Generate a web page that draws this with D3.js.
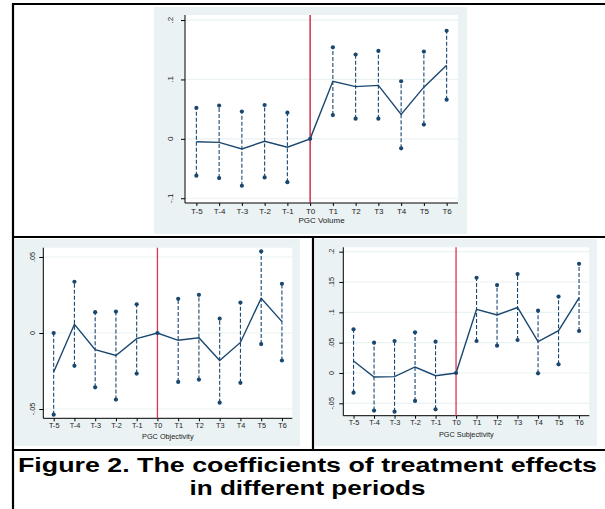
<!DOCTYPE html>
<html>
<head>
<meta charset="utf-8">
<script src="https://cdn.jsdelivr.net/npm/d3@7"></script>
<style>
  body { margin: 0; background: #fff; }
  svg { display: block; font-family: "Liberation Sans", Arial, sans-serif; }
</style>
</head>
<body>
<svg id="fig" width="605" height="509"></svg>
<script>
// periods on the x axis
const periods = ["T-5", "T-4", "T-3", "T-2", "T-1", "T0", "T1", "T2", "T3", "T4", "T5", "T6"];

// PGC Volume
const volCoef = [-0.005, -0.006, -0.017, -0.004, -0.014, 0, 0.097, 0.088, 0.090, 0.041, 0.087, 0.124];
const volLo   = [-0.062, -0.066, -0.079, -0.065, -0.073, 0, 0.040, 0.034, 0.034, -0.016, 0.024, 0.066];
const volHi   = [0.052, 0.056, 0.046, 0.057, 0.044, 0, 0.154, 0.142, 0.148, 0.097, 0.147, 0.182];
const volTicks = [-0.1, 0, 0.1, 0.2];

// PGC Objectivity
const objCoef = [-0.0256, 0.0057, -0.011, -0.0148, -0.0037, 0, -0.0048, -0.0031, -0.0181, -0.0062, 0.0229, 0.0075];
const objLo   = [-0.0537, -0.0216, -0.0357, -0.0438, -0.0267, 0, -0.0322, -0.0306, -0.0458, -0.0328, -0.0073, -0.0181];
const objHi   = [0.0, 0.0337, 0.0137, 0.0141, 0.0189, 0, 0.0225, 0.0251, 0.0095, 0.020, 0.0537, 0.0324];
const objTicks = [-0.05, 0, 0.05];

// PGC Subjectivity
const subCoef = [0.0198, -0.0066, -0.006, 0.0099, -0.0044, 0, 0.105, 0.0956, 0.108, 0.0516, 0.0698, 0.124];
const subLo   = [-0.0324, -0.062, -0.0637, -0.046, -0.0599, 0, 0.0527, 0.045, 0.0544, -0.0005, 0.0143, 0.0692];
const subHi   = [0.072, 0.050, 0.0527, 0.067, 0.0516, 0, 0.157, 0.145, 0.163, 0.1027, 0.126, 0.180];
const subTicks = [-0.05, 0, 0.05, 0.1, 0.15, 0.2];

const navy = "#1a476f";
const bg = "#eaf2f3";

const svg = d3.select("#fig");
svg.append("rect").attr("width", 605).attr("height", 509).attr("fill", "#fff");

// stata style tick labels: .1, -.05
function stataFmt(v) {
  if (Math.abs(v) < 1e-9) return "0";
  let s = String(+v.toFixed(3));
  return s.replace(/^0\./, ".").replace(/^-0\./, "-.");
}

function drawPanel(p) {
  const g = svg.append("g");

  // outer panel background
  g.append("rect")
    .attr("x", p.box[0]).attr("y", p.box[1])
    .attr("width", p.box[2] - p.box[0]).attr("height", p.box[3] - p.box[1])
    .attr("fill", bg);

  const x = d3.scalePoint().domain(periods).range([p.left, p.right]).padding(0.5);
  const y = d3.scaleLinear().domain(p.yDomain).range([p.bottom, p.top]);

  // plot region
  g.append("rect")
    .attr("x", p.left).attr("y", p.top)
    .attr("width", p.right - p.left).attr("height", p.bottom - p.top)
    .attr("fill", "#fff");

  // grid lines
  g.append("g").selectAll("line")
    .data(p.ticks)
    .join("line")
    .attr("x1", p.left).attr("x2", p.right)
    .attr("y1", d => y(d)).attr("y2", d => y(d))
    .attr("stroke", bg).attr("stroke-width", 1.2);

  // y axis
  const yAxis = g.append("g")
    .attr("transform", `translate(${p.left},0)`)
    .call(d3.axisLeft(y).tickValues(p.ticks).tickSize(4).tickSizeOuter(0).tickFormat(""));
  yAxis.select(".domain").attr("stroke", "#000").attr("d", `M0,${p.top}V${p.bottom}`);
  yAxis.selectAll(".tick line").attr("stroke", "#000");

  g.append("g").selectAll("text")
    .data(p.ticks)
    .join("text")
    .attr("transform", d => `translate(${p.left - p.labelGap},${y(d)}) rotate(-90)`)
    .attr("text-anchor", "middle")
    .attr("font-size", p.fs)
    .attr("fill", "#222")
    .text(stataFmt);

  // x axis
  const xAxis = g.append("g")
    .attr("transform", `translate(0,${p.bottom})`)
    .call(d3.axisBottom(x).tickSize(3).tickSizeOuter(0));
  xAxis.select(".domain").attr("stroke", "#000").attr("d", `M${p.left},0H${p.right}`);
  xAxis.selectAll(".tick line").attr("stroke", "#000");
  xAxis.selectAll(".tick text")
    .attr("font-size", p.fs).attr("font-family", "Liberation Sans, Arial, sans-serif")
    .attr("fill", "#222").attr("dy", "0.75em").attr("y", p.tickY);

  g.append("text")
    .attr("x", (p.left + p.right) / 2)
    .attr("y", p.titleY)
    .attr("text-anchor", "middle")
    .attr("font-size", p.fs)
    .attr("fill", "#222")
    .text(p.title);

  // red reference line at T0
  g.append("line")
    .attr("x1", x("T0")).attr("x2", x("T0"))
    .attr("y1", p.top).attr("y2", p.bottom)
    .attr("stroke", p.red).attr("stroke-width", 1.3);

  const rows = periods.map((t, i) => ({ t, c: p.coef[i], lo: p.lo[i], hi: p.hi[i] }));
  const ci = rows.filter(d => d.t !== "T0");

  // confidence intervals
  g.append("g").selectAll("line")
    .data(ci)
    .join("line")
    .attr("x1", d => x(d.t)).attr("x2", d => x(d.t))
    .attr("y1", d => y(d.lo)).attr("y2", d => y(d.hi))
    .attr("stroke", navy).attr("stroke-width", 1.1)
    .attr("stroke-dasharray", "4,2");

  g.append("g").selectAll("circle")
    .data(ci.flatMap(d => [{ t: d.t, v: d.lo }, { t: d.t, v: d.hi }]).concat([{ t: "T0", v: 0 }]))
    .join("circle")
    .attr("cx", d => x(d.t)).attr("cy", d => y(d.v))
    .attr("r", 2.1)
    .attr("fill", navy);

  // coefficient line
  g.append("path")
    .datum(rows)
    .attr("d", d3.line().x(d => x(d.t)).y(d => y(d.c)))
    .attr("fill", "none")
    .attr("stroke", navy)
    .attr("stroke-width", 1.4);
}

drawPanel({
  box: [154, 7, 467, 234],
  left: 185, right: 458, top: 15, bottom: 203,
  yDomain: [-0.108, 0.2085],
  ticks: volTicks, coef: volCoef, lo: volLo, hi: volHi,
  title: "PGC Volume", titleY: 223, tickY: 5, labelGap: 12, fs: 8, red: "#c8102e"
});

drawPanel({
  box: [15, 239, 300, 446],
  left: 43.3, right: 292.3, top: 247.7, bottom: 418.3,
  yDomain: [-0.0561, 0.0561],
  ticks: objTicks, coef: objCoef, lo: objLo, hi: objHi,
  title: "PGC Objectivity", titleY: 439, tickY: 4, labelGap: 8, fs: 7.3, red: "#dc3553"
});

drawPanel({
  box: [315, 239, 597, 446],
  left: 343.3, right: 589.3, top: 247.3, bottom: 415.7,
  yDomain: [-0.0704, 0.2072],
  ticks: subTicks, coef: subCoef, lo: subLo, hi: subHi,
  title: "PGC Subjectivity", titleY: 437, tickY: 4, labelGap: 9, fs: 7.3, red: "#dc3553"
});

// frame lines
const frame = [
  [12, 4, 605, 4],
  [13, 3, 13, 509],
  [12, 237, 605, 237],
  [313, 237, 313, 450],
  [12, 450, 605, 450]
];
svg.append("g").selectAll("line")
  .data(frame)
  .join("line")
  .attr("x1", d => d[0]).attr("y1", d => d[1])
  .attr("x2", d => d[2]).attr("y2", d => d[3])
  .attr("stroke", "#000").attr("stroke-width", 2.2);

// caption (stretched horizontally like the reference)
const caption = ["Figure 2. The coefficients of treatment effects", "in different periods"];
const captionWidth = [579, 236];
svg.append("g").selectAll("text")
  .data(caption)
  .join("text")
  .attr("x", 307.5)
  .attr("y", (d, i) => 472 + i * 22.5)
  .attr("text-anchor", "middle")
  .attr("font-size", 21)
  .attr("font-weight", "bold")
  .attr("fill", "#000")
  .attr("textLength", (d, i) => captionWidth[i])
  .attr("lengthAdjust", "spacingAndGlyphs")
  .text(d => d);
</script>
</body>
</html>
